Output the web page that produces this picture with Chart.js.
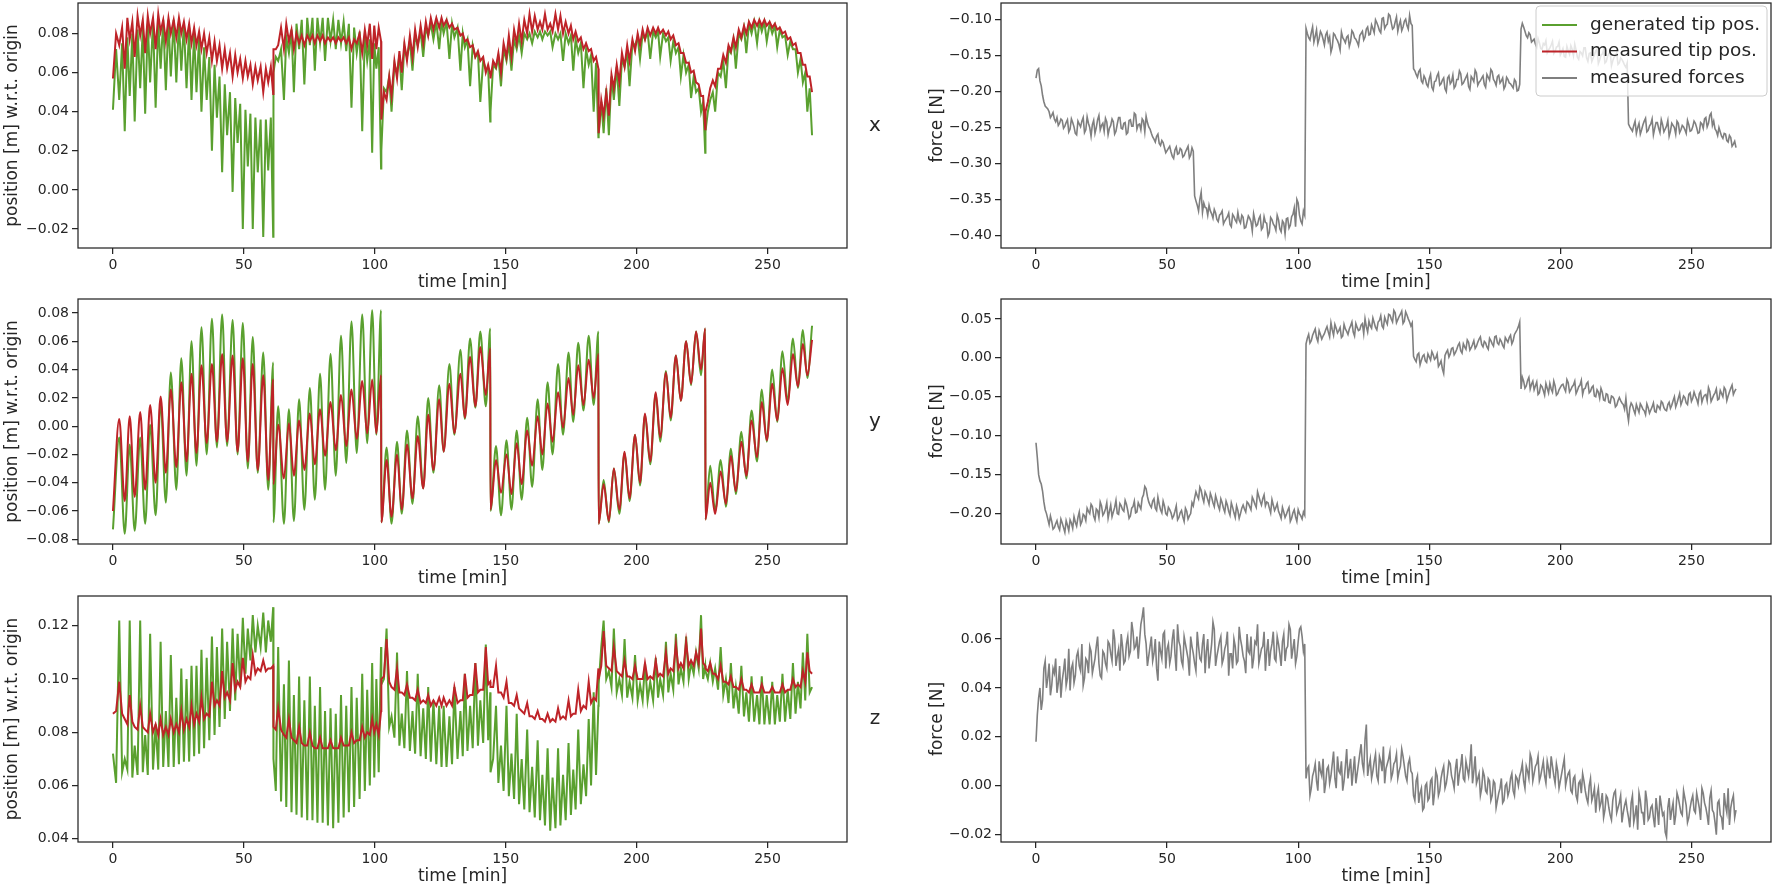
<!DOCTYPE html>
<html>
<head>
<meta charset="utf-8">
<title>tip position and forces</title>
<script src="https://cdn.jsdelivr.net/npm/chart.js"></script>
<style>
  html, body { margin: 0; padding: 0; background: #fff; }
  #fig { position: relative; width: 1772px; height: 893px; overflow: hidden; background: #fff; }
  .panel { position: absolute; }
</style>
</head>
<body>
<div id="fig">
  <div class="panel" style="left:0;top:0;width:900px;height:293px"><canvas id="posXChart"></canvas></div>
  <div class="panel" style="left:0;top:296px;width:900px;height:293px"><canvas id="posYChart"></canvas></div>
  <div class="panel" style="left:0;top:593px;width:900px;height:294px"><canvas id="posZChart"></canvas></div>
  <div class="panel" style="left:920px;top:0;width:852px;height:293px"><canvas id="forceXChart"></canvas></div>
  <div class="panel" style="left:920px;top:296px;width:852px;height:293px"><canvas id="forceYChart"></canvas></div>
  <div class="panel" style="left:920px;top:593px;width:852px;height:294px"><canvas id="forceZChart"></canvas></div>
</div>
<script>
// ---- data ----
// y position: peak / trough instants
const timePosY = [
  0, 2.4, 4.5, 6.4, 8.3, 10.4, 12.3, 14.2, 16.3, 18.2, 20.2, 22.1, 24.2, 26.1, 28.1, 30.0, 31.9, 33.8, 35.8, 37.8, 39.7, 41.7, 43.6, 45.7, 47.6, 49.6, 51.5, 53.4, 55.3, 57.4, 59.3, 61.2, 61.3,
  63.1, 65.3, 67.2, 69.1, 71.1, 73.1, 75.2, 77.1, 79.1, 81.0, 83.1, 85.1, 87.1, 89.1, 91.1, 93.1, 95.2, 97.1, 99.0, 100.6, 102.4, 102.5,
  104.5, 106.4, 108.5, 110.3, 112.3, 114.4, 116.4, 118.5, 120.4, 122.4, 124.6, 126.3, 128.5, 130.4, 132.7, 134.4, 136.4, 138.4, 140.3, 142.4, 144.1, 144.2,
  146.3, 148.2, 150.3, 152.2, 154.2, 156.1, 158.2, 160.1, 162.2, 164.0, 166.0, 167.9, 170.0, 171.9, 174.0, 175.8, 177.7, 179.7, 181.7, 183.6, 185.4, 185.5,
  187.4, 189.4, 191.3, 193.4, 195.4, 197.3, 199.4, 201.3, 203.2, 205.2, 207.3, 209.0, 211.2, 213.0, 215.0, 216.9, 218.9, 220.8, 222.7, 224.6, 226.2, 226.3,
  228.1, 230.0, 232.1, 234.1, 236.0, 237.9, 240.0, 241.9, 243.9, 246.0, 247.8, 249.7, 251.8, 253.7, 255.7, 257.7, 259.7, 261.6, 263.5, 265.2, 267.0
];
const genPosY = [
  -0.073, -0.008, -0.076, -0.013, -0.074, -0.008, -0.069, 0.001, -0.063, 0.017, -0.054, 0.038, -0.045, 0.048, -0.035, 0.060, -0.028, 0.070, -0.020, 0.076, -0.015, 0.079, -0.014, 0.075, -0.020, 0.073, -0.030, 0.063, -0.033, 0.052, -0.045, 0.045, -0.068,
  0.014, -0.069, 0.012, -0.067, 0.019, -0.059, 0.027, -0.052, 0.037, -0.045, 0.051, -0.035, 0.064, -0.026, 0.074, -0.019, 0.079, -0.012, 0.082, -0.006, 0.082, -0.068,
  -0.015, -0.069, -0.011, -0.062, -0.003, -0.055, 0.007, -0.044, 0.020, -0.033, 0.029, -0.018, 0.044, -0.006, 0.054, 0.005, 0.062, 0.013, 0.067, 0.014, 0.069, -0.060,
  -0.014, -0.063, -0.010, -0.059, -0.003, -0.052, 0.006, -0.043, 0.019, -0.031, 0.031, -0.020, 0.044, -0.006, 0.052, 0.003, 0.059, 0.011, 0.064, 0.015, 0.067, -0.069,
  -0.038, -0.068, -0.030, -0.062, -0.019, -0.053, -0.006, -0.042, 0.008, -0.027, 0.023, -0.011, 0.039, 0.004, 0.050, 0.018, 0.060, 0.029, 0.067, 0.036, 0.069, -0.066,
  -0.028, -0.060, -0.024, -0.057, -0.016, -0.048, -0.004, -0.037, 0.011, -0.025, 0.026, -0.011, 0.040, 0.003, 0.053, 0.017, 0.062, 0.027, 0.068, 0.034, 0.071
];
const measPosY = [
  -0.060, 0.005, -0.053, 0.007, -0.050, 0.010, -0.045, 0.015, -0.040, 0.021, -0.033, 0.026, -0.029, 0.031, -0.025, 0.037, -0.019, 0.043, -0.012, 0.044, -0.011, 0.051, -0.011, 0.050, -0.018, 0.048, -0.025, 0.044, -0.031, 0.036, -0.038, 0.033, -0.041,
  0.001, -0.037, 0.002, -0.035, 0.004, -0.031, 0.009, -0.027, 0.012, -0.021, 0.017, -0.017, 0.022, -0.014, 0.026, -0.009, 0.032, -0.005, 0.033, -0.005, 0.036, -0.068,
  -0.024, -0.064, -0.020, -0.059, -0.013, -0.051, -0.007, -0.044, 0.008, -0.031, 0.019, -0.018, 0.030, -0.005, 0.037, 0.006, 0.049, 0.014, 0.056, 0.022, 0.055, -0.059,
  -0.024, -0.047, -0.020, -0.048, -0.012, -0.041, -0.003, -0.028, 0.007, -0.020, 0.016, -0.011, 0.024, -0.001, 0.034, 0.008, 0.043, 0.015, 0.047, 0.020, 0.051, -0.069,
  -0.041, -0.067, -0.030, -0.059, -0.018, -0.051, -0.006, -0.040, 0.009, -0.025, 0.024, -0.008, 0.038, 0.006, 0.050, 0.018, 0.060, 0.030, 0.067, 0.040, 0.069, -0.066,
  -0.040, -0.062, -0.032, -0.055, -0.021, -0.046, -0.011, -0.035, 0.004, -0.022, 0.017, -0.010, 0.030, 0.004, 0.041, 0.015, 0.051, 0.028, 0.058, 0.036, 0.061
];

// x and z position: finer instants (y extremes plus the points between them)
const timePosXZ = [
  0, 1.2, 2.4, 3.5, 4.5, 5.5, 6.4, 7.4, 8.3, 9.4, 10.4, 11.4, 12.3, 13.3, 14.2, 15.3, 16.3, 17.3, 18.2, 19.2, 20.2, 21.2, 22.1, 23.2, 24.2, 25.2, 26.1, 27.1, 28.1, 29.1, 30.0, 31.0,
  31.9, 32.9, 33.8, 34.8, 35.8, 36.8, 37.8, 38.8, 39.7, 40.7, 41.7, 42.7, 43.6, 44.7, 45.7, 46.7, 47.6, 48.6, 49.6, 50.6, 51.5, 52.5, 53.4, 54.4, 55.3, 56.4, 57.4, 58.4, 59.3, 60.3, 61.2, 61.3,
  62.2, 63.1, 64.2, 65.3, 66.2, 67.2, 68.2, 69.1, 70.1, 71.1, 72.1, 73.1, 74.2, 75.2, 76.2, 77.1, 78.1, 79.1, 80.1, 81.0, 82.1, 83.1, 84.1, 85.1, 86.1, 87.1, 88.1, 89.1, 90.1, 91.1, 92.1, 93.1, 94.2, 95.2, 96.2, 97.1, 98.1, 99.0, 99.8, 100.6, 101.5, 102.4, 102.5,
  103.5, 104.5, 105.5, 106.4, 107.5, 108.5, 109.4, 110.3, 111.3, 112.3, 113.4, 114.4, 115.4, 116.4, 117.5, 118.5, 119.5, 120.4, 121.4, 122.4, 123.5, 124.6, 125.5, 126.3, 127.4, 128.5, 129.5, 130.4, 131.6, 132.7, 133.6, 134.4, 135.4, 136.4, 137.4, 138.4, 139.4, 140.3, 141.4, 142.4, 143.3, 144.1, 144.2,
  145.2, 146.3, 147.2, 148.2, 149.2, 150.3, 151.2, 152.2, 153.2, 154.2, 155.1, 156.1, 157.1, 158.2, 159.1, 160.1, 161.1, 162.2, 163.1, 164.0, 165.0, 166.0, 167.0, 167.9, 169.0, 170.0, 170.9, 171.9, 172.9, 174.0, 174.9, 175.8, 176.7, 177.7, 178.7, 179.7, 180.7, 181.7, 182.6, 183.6, 184.5, 185.4, 185.5,
  186.5, 187.4, 188.4, 189.4, 190.4, 191.3, 192.4, 193.4, 194.4, 195.4, 196.4, 197.3, 198.4, 199.4, 200.4, 201.3, 202.3, 203.2, 204.2, 205.2, 206.3, 207.3, 208.2, 209.0, 210.1, 211.2, 212.1, 213.0, 214.0, 215.0, 216.0, 216.9, 217.9, 218.9, 219.9, 220.8, 221.8, 222.7, 223.7, 224.6, 225.4, 226.2, 226.3,
  227.2, 228.1, 229.1, 230.0, 231.1, 232.1, 233.1, 234.1, 235.1, 236.0, 237.0, 237.9, 239.0, 240.0, 241.0, 241.9, 242.9, 243.9, 244.9, 246.0, 246.9, 247.8, 248.8, 249.7, 250.8, 251.8, 252.8, 253.7, 254.7, 255.7, 256.7, 257.7, 258.7, 259.7, 260.7, 261.6, 262.6, 263.5, 264.4, 265.2, 266.1, 267.0
];
const genPosX = [
  0.041, 0.072, 0.046, 0.075, 0.030, 0.078, 0.048, 0.080, 0.035, 0.082, 0.052, 0.083, 0.039, 0.085, 0.055, 0.086, 0.042, 0.086, 0.062, 0.087, 0.051, 0.087, 0.058, 0.087, 0.055, 0.086, 0.061, 0.085, 0.052, 0.083, 0.046, 0.080,
  0.050, 0.078, 0.040, 0.073, 0.046, 0.068, 0.020, 0.064, 0.037, 0.058, 0.009, 0.054, 0.028, 0.050, -0.001, 0.047, 0.024, 0.044, -0.020, 0.041, 0.012, 0.039, -0.020, 0.037, 0.009, 0.036, -0.024, 0.036, 0.010, 0.037, -0.024, 0.060,
  0.068, 0.066, 0.072, 0.046, 0.078, 0.070, 0.082, 0.050, 0.085, 0.072, 0.087, 0.054, 0.088, 0.074, 0.088, 0.061, 0.088, 0.075, 0.088, 0.066, 0.088, 0.076, 0.087, 0.072, 0.087, 0.075, 0.086, 0.071, 0.085, 0.042, 0.083, 0.070, 0.081, 0.030, 0.079, 0.066, 0.077, 0.019, 0.075, 0.062, 0.073, 0.011, 0.020,
  0.052, 0.050, 0.058, 0.040, 0.064, 0.060, 0.069, 0.051, 0.073, 0.068, 0.076, 0.061, 0.079, 0.074, 0.081, 0.068, 0.083, 0.079, 0.085, 0.077, 0.086, 0.072, 0.086, 0.080, 0.086, 0.067, 0.085, 0.078, 0.083, 0.061, 0.080, 0.073, 0.077, 0.053, 0.074, 0.068, 0.070, 0.045, 0.066, 0.062, 0.062, 0.035, 0.040,
  0.064, 0.062, 0.068, 0.053, 0.072, 0.066, 0.075, 0.061, 0.077, 0.072, 0.079, 0.070, 0.080, 0.077, 0.080, 0.075, 0.081, 0.078, 0.081, 0.077, 0.081, 0.079, 0.081, 0.073, 0.080, 0.077, 0.080, 0.066, 0.080, 0.075, 0.079, 0.061, 0.077, 0.070, 0.075, 0.052, 0.072, 0.064, 0.069, 0.040, 0.065, 0.027, 0.028,
  0.045, 0.029, 0.052, 0.028, 0.058, 0.046, 0.063, 0.043, 0.067, 0.063, 0.071, 0.053, 0.075, 0.074, 0.078, 0.067, 0.080, 0.077, 0.081, 0.067, 0.081, 0.078, 0.081, 0.068, 0.080, 0.076, 0.078, 0.066, 0.076, 0.070, 0.073, 0.058, 0.069, 0.060, 0.064, 0.047, 0.058, 0.050, 0.052, 0.040, 0.045, 0.019, 0.030,
  0.040, 0.046, 0.050, 0.040, 0.060, 0.058, 0.066, 0.052, 0.072, 0.070, 0.077, 0.062, 0.080, 0.077, 0.083, 0.070, 0.085, 0.080, 0.086, 0.075, 0.086, 0.081, 0.086, 0.076, 0.085, 0.080, 0.084, 0.073, 0.082, 0.078, 0.079, 0.069, 0.076, 0.072, 0.072, 0.060, 0.067, 0.055, 0.060, 0.040, 0.052, 0.028
];
const measPosX = [
  0.057, 0.080, 0.074, 0.083, 0.062, 0.088, 0.077, 0.086, 0.068, 0.089, 0.079, 0.087, 0.070, 0.089, 0.080, 0.088, 0.072, 0.090, 0.081, 0.087, 0.076, 0.088, 0.080, 0.087, 0.078, 0.088, 0.080, 0.086, 0.077, 0.085, 0.075, 0.083,
  0.074, 0.081, 0.072, 0.080, 0.070, 0.078, 0.066, 0.076, 0.066, 0.074, 0.062, 0.072, 0.062, 0.070, 0.058, 0.069, 0.060, 0.067, 0.057, 0.066, 0.058, 0.064, 0.054, 0.063, 0.056, 0.063, 0.050, 0.062, 0.055, 0.063, 0.049, 0.072,
  0.072, 0.074, 0.083, 0.072, 0.085, 0.076, 0.082, 0.072, 0.080, 0.075, 0.079, 0.074, 0.079, 0.076, 0.079, 0.075, 0.079, 0.076, 0.079, 0.075, 0.078, 0.076, 0.078, 0.075, 0.078, 0.076, 0.078, 0.075, 0.078, 0.072, 0.077, 0.075, 0.080, 0.070, 0.082, 0.074, 0.085, 0.067, 0.084, 0.072, 0.083, 0.076, 0.036,
  0.050, 0.046, 0.058, 0.048, 0.066, 0.057, 0.071, 0.060, 0.075, 0.066, 0.079, 0.068, 0.082, 0.073, 0.084, 0.075, 0.086, 0.079, 0.088, 0.082, 0.088, 0.083, 0.088, 0.084, 0.087, 0.083, 0.085, 0.082, 0.083, 0.079, 0.080, 0.076, 0.077, 0.073, 0.074, 0.068, 0.071, 0.066, 0.068, 0.060, 0.064, 0.059, 0.057,
  0.066, 0.063, 0.070, 0.060, 0.075, 0.068, 0.079, 0.068, 0.082, 0.075, 0.085, 0.076, 0.087, 0.080, 0.090, 0.081, 0.089, 0.082, 0.086, 0.082, 0.090, 0.082, 0.085, 0.081, 0.090, 0.082, 0.089, 0.080, 0.086, 0.080, 0.084, 0.077, 0.081, 0.076, 0.078, 0.072, 0.075, 0.071, 0.072, 0.066, 0.068, 0.062, 0.029,
  0.046, 0.038, 0.050, 0.038, 0.059, 0.052, 0.064, 0.055, 0.070, 0.063, 0.074, 0.066, 0.077, 0.071, 0.080, 0.074, 0.082, 0.077, 0.083, 0.079, 0.083, 0.080, 0.083, 0.080, 0.082, 0.079, 0.081, 0.077, 0.079, 0.074, 0.075, 0.070, 0.070, 0.065, 0.065, 0.060, 0.061, 0.055, 0.054, 0.048, 0.048, 0.031, 0.040,
  0.045, 0.052, 0.056, 0.053, 0.062, 0.062, 0.069, 0.065, 0.074, 0.071, 0.078, 0.073, 0.082, 0.078, 0.084, 0.080, 0.086, 0.083, 0.087, 0.084, 0.087, 0.084, 0.087, 0.084, 0.086, 0.083, 0.085, 0.082, 0.083, 0.080, 0.081, 0.077, 0.078, 0.074, 0.075, 0.070, 0.070, 0.064, 0.064, 0.058, 0.058, 0.050
];
const genPosZ = [
  0.072, 0.061, 0.122, 0.065, 0.070, 0.066, 0.122, 0.063, 0.075, 0.064, 0.122, 0.065, 0.079, 0.064, 0.117, 0.066, 0.083, 0.066, 0.114, 0.067, 0.088, 0.067, 0.109, 0.067, 0.093, 0.068, 0.104, 0.069, 0.100, 0.069, 0.105, 0.071,
  0.105, 0.072, 0.111, 0.074, 0.108, 0.077, 0.116, 0.079, 0.112, 0.082, 0.119, 0.085, 0.114, 0.088, 0.119, 0.092, 0.117, 0.097, 0.123, 0.102, 0.119, 0.107, 0.124, 0.110, 0.120, 0.112, 0.125, 0.110, 0.122, 0.114, 0.127, 0.070,
  0.058, 0.112, 0.054, 0.098, 0.052, 0.107, 0.050, 0.094, 0.049, 0.101, 0.048, 0.092, 0.047, 0.101, 0.047, 0.090, 0.046, 0.097, 0.046, 0.088, 0.045, 0.089, 0.044, 0.087, 0.046, 0.094, 0.048, 0.090, 0.050, 0.097, 0.052, 0.093, 0.055, 0.102, 0.058, 0.096, 0.060, 0.106, 0.063, 0.100, 0.065, 0.112, 0.098,
  0.100, 0.119, 0.082, 0.086, 0.078, 0.110, 0.075, 0.087, 0.074, 0.103, 0.073, 0.088, 0.072, 0.102, 0.071, 0.089, 0.070, 0.097, 0.069, 0.092, 0.068, 0.090, 0.067, 0.090, 0.067, 0.086, 0.068, 0.097, 0.070, 0.088, 0.071, 0.102, 0.073, 0.090, 0.074, 0.106, 0.075, 0.092, 0.076, 0.113, 0.077, 0.095, 0.065,
  0.070, 0.090, 0.061, 0.075, 0.058, 0.090, 0.056, 0.072, 0.055, 0.087, 0.053, 0.070, 0.051, 0.081, 0.050, 0.067, 0.048, 0.077, 0.047, 0.064, 0.045, 0.074, 0.043, 0.063, 0.044, 0.074, 0.045, 0.064, 0.047, 0.076, 0.049, 0.066, 0.051, 0.081, 0.053, 0.068, 0.056, 0.085, 0.060, 0.095, 0.064, 0.090, 0.098,
  0.112, 0.122, 0.100, 0.103, 0.097, 0.119, 0.095, 0.100, 0.094, 0.115, 0.093, 0.099, 0.093, 0.109, 0.092, 0.098, 0.092, 0.106, 0.092, 0.099, 0.092, 0.108, 0.093, 0.100, 0.094, 0.114, 0.095, 0.102, 0.096, 0.117, 0.098, 0.104, 0.099, 0.116, 0.100, 0.106, 0.102, 0.110, 0.104, 0.124, 0.100, 0.105, 0.103,
  0.100, 0.106, 0.099, 0.104, 0.096, 0.112, 0.094, 0.100, 0.091, 0.106, 0.089, 0.097, 0.087, 0.105, 0.086, 0.095, 0.084, 0.101, 0.084, 0.094, 0.083, 0.101, 0.083, 0.094, 0.083, 0.099, 0.083, 0.094, 0.084, 0.102, 0.084, 0.096, 0.085, 0.106, 0.087, 0.099, 0.089, 0.110, 0.092, 0.117, 0.095, 0.097
];
const measPosZ = [
  0.087, 0.088, 0.099, 0.087, 0.085, 0.083, 0.094, 0.084, 0.082, 0.081, 0.090, 0.082, 0.081, 0.080, 0.087, 0.080, 0.083, 0.079, 0.085, 0.079, 0.082, 0.079, 0.085, 0.080, 0.083, 0.080, 0.088, 0.081, 0.085, 0.082, 0.090, 0.083,
  0.087, 0.084, 0.093, 0.085, 0.087, 0.086, 0.099, 0.090, 0.092, 0.090, 0.103, 0.093, 0.095, 0.092, 0.106, 0.096, 0.099, 0.097, 0.108, 0.099, 0.101, 0.100, 0.109, 0.102, 0.104, 0.103, 0.107, 0.103, 0.104, 0.104, 0.105, 0.082,
  0.081, 0.089, 0.081, 0.079, 0.078, 0.085, 0.078, 0.077, 0.076, 0.082, 0.076, 0.075, 0.075, 0.080, 0.075, 0.074, 0.074, 0.078, 0.074, 0.074, 0.074, 0.077, 0.074, 0.074, 0.074, 0.078, 0.075, 0.075, 0.075, 0.080, 0.076, 0.077, 0.077, 0.082, 0.078, 0.080, 0.079, 0.085, 0.080, 0.083, 0.079, 0.088, 0.100,
  0.101, 0.115, 0.099, 0.097, 0.096, 0.104, 0.095, 0.095, 0.094, 0.098, 0.093, 0.093, 0.092, 0.096, 0.091, 0.092, 0.091, 0.094, 0.090, 0.092, 0.090, 0.093, 0.090, 0.093, 0.090, 0.092, 0.090, 0.097, 0.091, 0.092, 0.092, 0.102, 0.093, 0.094, 0.094, 0.106, 0.095, 0.096, 0.096, 0.112, 0.098, 0.099, 0.097,
  0.097, 0.105, 0.095, 0.095, 0.093, 0.099, 0.091, 0.091, 0.090, 0.094, 0.089, 0.088, 0.087, 0.091, 0.086, 0.086, 0.085, 0.088, 0.085, 0.085, 0.084, 0.087, 0.084, 0.085, 0.084, 0.089, 0.085, 0.086, 0.085, 0.092, 0.086, 0.087, 0.087, 0.096, 0.088, 0.090, 0.089, 0.099, 0.091, 0.093, 0.092, 0.104, 0.100,
  0.105, 0.118, 0.105, 0.104, 0.103, 0.112, 0.103, 0.102, 0.101, 0.107, 0.101, 0.101, 0.100, 0.105, 0.100, 0.100, 0.100, 0.106, 0.100, 0.101, 0.100, 0.107, 0.101, 0.102, 0.101, 0.110, 0.102, 0.104, 0.103, 0.113, 0.104, 0.106, 0.104, 0.114, 0.105, 0.107, 0.105, 0.110, 0.106, 0.119, 0.106, 0.105, 0.104,
  0.103, 0.106, 0.102, 0.102, 0.100, 0.105, 0.099, 0.099, 0.098, 0.101, 0.097, 0.097, 0.096, 0.100, 0.096, 0.096, 0.095, 0.098, 0.095, 0.095, 0.095, 0.098, 0.095, 0.095, 0.095, 0.097, 0.095, 0.095, 0.095, 0.098, 0.095, 0.096, 0.096, 0.100, 0.097, 0.098, 0.097, 0.103, 0.099, 0.110, 0.103, 0.102
];

// forces: readings on the whole minute ...
const timeForce = [
  0, 1, 2, 3, 4, 5, 6, 7, 8, 9, 10, 11, 12, 13, 14, 15, 16, 17, 18, 19, 20, 21, 22, 23, 24, 25, 26, 27, 28, 29,
  30, 31, 32, 33, 34, 35, 36, 37, 38, 39, 40, 41, 42, 43, 44, 45, 46, 47, 48, 49, 50, 51, 52, 53, 54, 55, 56, 57, 58, 59,
  60, 61, 62, 63, 64, 65, 66, 67, 68, 69, 70, 71, 72, 73, 74, 75, 76, 77, 78, 79, 80, 81, 82, 83, 84, 85, 86, 87, 88, 89,
  90, 91, 92, 93, 94, 95, 96, 97, 98, 99, 100, 101, 102, 103, 104, 105, 106, 107, 108, 109, 110, 111, 112, 113, 114, 115, 116, 117, 118, 119,
  120, 121, 122, 123, 124, 125, 126, 127, 128, 129, 130, 131, 132, 133, 134, 135, 136, 137, 138, 139, 140, 141, 142, 143, 144, 145, 146, 147, 148, 149,
  150, 151, 152, 153, 154, 155, 156, 157, 158, 159, 160, 161, 162, 163, 164, 165, 166, 167, 168, 169, 170, 171, 172, 173, 174, 175, 176, 177, 178, 179,
  180, 181, 182, 183, 184, 185, 186, 187, 188, 189, 190, 191, 192, 193, 194, 195, 196, 197, 198, 199, 200, 201, 202, 203, 204, 205, 206, 207, 208, 209,
  210, 211, 212, 213, 214, 215, 216, 217, 218, 219, 220, 221, 222, 223, 224, 225, 226, 227, 228, 229, 230, 231, 232, 233, 234, 235, 236, 237, 238, 239,
  240, 241, 242, 243, 244, 245, 246, 247, 248, 249, 250, 251, 252, 253, 254, 255, 256, 257, 258, 259, 260, 261, 262, 263, 264, 265, 266, 267
];
const forceX = [
  -0.181, -0.168, -0.192, -0.214, -0.222, -0.228, -0.233, -0.238, -0.236, -0.244, -0.240,
  -0.248, -0.239, -0.252, -0.243, -0.258, -0.241, -0.249, -0.236, -0.253, -0.244, -0.262, -0.240, -0.250, -0.233, -0.247, -0.255, -0.242, -0.251, -0.238, -0.259,
  -0.245, -0.236, -0.252, -0.243, -0.257, -0.239, -0.248, -0.232, -0.246, -0.253, -0.241, -0.234, -0.249,
  -0.258, -0.266, -0.262, -0.272, -0.268, -0.278,
  -0.282, -0.276, -0.290, -0.281, -0.287, -0.279, -0.291, -0.284, -0.276, -0.288, -0.283,
  -0.352, -0.366, -0.340, -0.355, -0.362, -0.358, -0.370, -0.364, -0.378, -0.372, -0.366, -0.380, -0.374, -0.385, -0.371, -0.379, -0.368, -0.383, -0.375, -0.389,
  -0.373, -0.381, -0.370, -0.387, -0.377, -0.392, -0.374, -0.383, -0.396, -0.378, -0.387, -0.372, -0.391, -0.380, -0.398, -0.376, -0.386, -0.371, -0.388, -0.355, -0.380, -0.366,
  -0.112, -0.125, -0.118, -0.131, -0.114, -0.126, -0.120, -0.135, -0.117, -0.124, -0.138, -0.121, -0.129, -0.142, -0.125, -0.132, -0.122, -0.130, -0.118, -0.127,
  -0.136, -0.119, -0.128, -0.113, -0.121, -0.107, -0.118, -0.104, -0.115, -0.098, -0.112, -0.106, -0.094, -0.113, -0.103, -0.116, -0.101, -0.110, -0.099, -0.113, -0.105,
  -0.168, -0.176, -0.172, -0.185, -0.178, -0.190, -0.182, -0.194, -0.186, -0.178, -0.191, -0.184, -0.196, -0.181, -0.189, -0.177, -0.192, -0.183, -0.175, -0.188,
  -0.180, -0.193, -0.179, -0.186, -0.174, -0.187, -0.181, -0.190, -0.176, -0.184, -0.172, -0.186, -0.179, -0.188, -0.181, -0.192, -0.183, -0.189, -0.195, -0.186, -0.198,
  -0.113, -0.110, -0.122, -0.118, -0.131, -0.127, -0.138, -0.132, -0.141, -0.135, -0.146, -0.139, -0.130, -0.144, -0.137, -0.149, -0.140, -0.152, -0.143, -0.136,
  -0.150, -0.142, -0.155, -0.146, -0.139, -0.153, -0.147, -0.158, -0.149, -0.141, -0.156, -0.148, -0.160, -0.151, -0.145, -0.157, -0.150, -0.162, -0.153, -0.159, -0.166,
  -0.245, -0.252, -0.247, -0.258, -0.244, -0.253, -0.241, -0.256, -0.248, -0.238, -0.251, -0.243, -0.257, -0.246, -0.252, -0.240, -0.255, -0.247, -0.259, -0.244,
  -0.253, -0.249, -0.258, -0.246, -0.254, -0.241, -0.250, -0.257, -0.245, -0.238, -0.249, -0.233, -0.247, -0.252, -0.261, -0.256, -0.265, -0.259, -0.270, -0.264, -0.273, -0.278
];
const forceY = [
  -0.109, -0.150, -0.162, -0.185, -0.200, -0.214, -0.210, -0.218, -0.209, -0.221, -0.212, -0.224, -0.215, -0.208, -0.219, -0.211, -0.205, -0.214, -0.201, -0.209, -0.197,
  -0.188, -0.203, -0.194, -0.205, -0.190, -0.199, -0.186, -0.197, -0.204, -0.192, -0.200, -0.187, -0.195, -0.183, -0.196, -0.203, -0.191, -0.199, -0.186, -0.194,
  -0.176, -0.168, -0.185, -0.192, -0.181, -0.196, -0.188, -0.199, -0.190, -0.202, -0.195, -0.206, -0.197, -0.208, -0.199, -0.204, -0.193, -0.207, -0.200, -0.190,
  -0.172, -0.181, -0.170, -0.185, -0.176, -0.188, -0.179, -0.191, -0.183, -0.195, -0.186, -0.198, -0.189, -0.202, -0.192, -0.205, -0.196, -0.200, -0.189, -0.198,
  -0.187, -0.195, -0.183, -0.192, -0.178, -0.189, -0.176, -0.185, -0.193, -0.182, -0.196, -0.187, -0.201, -0.192, -0.205, -0.196, -0.210, -0.199, -0.204, -0.195, -0.203, -0.198,
  0.018, 0.030, 0.022, 0.033, 0.026, 0.035, 0.024, 0.031, 0.040, 0.027, 0.036, 0.043, 0.032, 0.039, 0.028, 0.037, 0.030, 0.041, 0.033, 0.044,
  0.035, 0.042, 0.031, 0.040, 0.047, 0.038, 0.045, 0.036, 0.048, 0.041, 0.052, 0.043, 0.055, 0.046, 0.058, 0.049, 0.056, 0.044, 0.059, 0.050, 0.041,
  0.002, -0.005, 0.006, -0.003, 0.004, -0.006, 0.001, 0.008, -0.002, 0.005, -0.008, -0.014, 0.003, 0.010, 0.005, 0.013, 0.007, 0.016, 0.009, 0.018,
  0.011, 0.020, 0.013, 0.022, 0.015, 0.024, 0.017, 0.021, 0.014, 0.025, 0.018, 0.027, 0.019, 0.024, 0.016, 0.026, 0.020, 0.029, 0.022, 0.033, 0.040,
  -0.040, -0.030, -0.036, -0.025, -0.034, -0.041, -0.031, -0.045, -0.037, -0.048, -0.039, -0.033, -0.044, -0.036, -0.046, -0.038, -0.034, -0.043, -0.032, -0.041, -0.035,
  -0.046, -0.037, -0.029, -0.040, -0.033, -0.045, -0.038, -0.049, -0.041, -0.052, -0.044, -0.055, -0.047, -0.058, -0.050, -0.063, -0.055, -0.055, -0.060, -0.052, -0.081,
  -0.058, -0.067, -0.060, -0.070, -0.062, -0.068, -0.059, -0.071, -0.063, -0.069, -0.061, -0.066, -0.058, -0.067, -0.060, -0.065, -0.055, -0.063, -0.052, -0.060,
  -0.049, -0.058, -0.047, -0.056, -0.044, -0.053, -0.046, -0.057, -0.048, -0.055, -0.043, -0.052, -0.045, -0.054, -0.042, -0.050, -0.041, -0.049, -0.039, -0.047, -0.040
];
const forceZ = [
  0.018, 0.036, 0.031, 0.048, 0.040, 0.050, 0.041, 0.046, 0.038, 0.049, 0.043, 0.052, 0.044, 0.039, 0.050, 0.045, 0.055, 0.047, 0.041, 0.052, 0.046,
  0.055, 0.049, 0.057, 0.050, 0.044, 0.054, 0.048, 0.058, 0.051, 0.060, 0.053, 0.047, 0.057, 0.051, 0.061, 0.055, 0.063, 0.057, 0.052, 0.066,
  0.073, 0.058, 0.053, 0.061, 0.054, 0.048, 0.059, 0.052, 0.063, 0.056, 0.050, 0.060, 0.054, 0.066, 0.057, 0.049, 0.058, 0.052, 0.061, 0.054,
  0.047, 0.057, 0.051, 0.062, 0.055, 0.048, 0.058, 0.064, 0.053, 0.059, 0.050, 0.056, 0.063, 0.054, 0.048, 0.057, 0.051, 0.060, 0.053, 0.046,
  0.055, 0.061, 0.052, 0.058, 0.050, 0.056, 0.063, 0.055, 0.049, 0.058, 0.052, 0.061, 0.054, 0.059, 0.051, 0.057, 0.064, 0.056, 0.050, 0.059, 0.065, 0.055,
  0.003, 0.008, -0.001, 0.006, 0.002, 0.010, 0.004, -0.003, 0.007, 0.001, 0.009, 0.003, 0.012, 0.005, -0.002, 0.008, 0.003, 0.011, 0.006, 0.001,
  0.009, 0.017, 0.006, 0.025, 0.008, 0.003, 0.010, 0.004, 0.012, 0.006, 0.001, 0.009, 0.014, 0.005, 0.010, 0.003, 0.008, 0.012, 0.004, 0.009, 0.006,
  -0.004, 0.002, -0.007, -0.001, -0.009, 0.001, -0.005, 0.003, -0.003, 0.004, -0.002, 0.006, -0.001, 0.005, 0.009, 0.002, 0.007, 0.000, 0.008, 0.003,
  0.010, 0.004, 0.017, 0.006, 0.001, 0.005, -0.001, 0.004, -0.003, 0.002, -0.004, 0.001, -0.006, -0.001, -0.007, 0.000, -0.004, 0.003, -0.002, 0.004, 0.000,
  0.006, 0.002, 0.008, 0.003, 0.011, 0.005, 0.009, 0.002, 0.007, 0.004, 0.010, 0.003, 0.008, 0.001, 0.006, 0.002, 0.008, 0.000, 0.005, -0.002,
  0.003, -0.004, 0.001, -0.003, 0.002, -0.005, 0.000, -0.006, -0.001, -0.004, -0.009, -0.003, -0.010, -0.005, -0.012, -0.006, -0.002, -0.009, -0.004, -0.011, -0.006,
  -0.013, -0.007, -0.015, -0.008, -0.003, -0.011, -0.016, -0.006, -0.013, -0.008, -0.017, -0.010, -0.004, -0.012, -0.019, -0.009, -0.014, -0.007, -0.012, -0.005,
  -0.011, -0.002, -0.008, -0.013, -0.006, -0.010, -0.003, -0.009, -0.001, -0.007, -0.012, -0.005, -0.010, -0.015, -0.007, -0.012, -0.018, -0.008, -0.001, -0.009, -0.004, -0.010
];

// ... and the readings half a minute later
const timeForceHalf = [
  0.5, 1.5, 2.5, 3.5, 4.5, 5.5, 6.5, 7.5, 8.5, 9.5, 10.5, 11.5, 12.5, 13.5, 14.5, 15.5, 16.5, 17.5, 18.5, 19.5, 20.5, 21.5, 22.5, 23.5, 24.5, 25.5, 26.5, 27.5, 28.5, 29.5,
  30.5, 31.5, 32.5, 33.5, 34.5, 35.5, 36.5, 37.5, 38.5, 39.5, 40.5, 41.5, 42.5, 43.5, 44.5, 45.5, 46.5, 47.5, 48.5, 49.5, 50.5, 51.5, 52.5, 53.5, 54.5, 55.5, 56.5, 57.5, 58.5, 59.5,
  60.5, 61.5, 62.5, 63.5, 64.5, 65.5, 66.5, 67.5, 68.5, 69.5, 70.5, 71.5, 72.5, 73.5, 74.5, 75.5, 76.5, 77.5, 78.5, 79.5, 80.5, 81.5, 82.5, 83.5, 84.5, 85.5, 86.5, 87.5, 88.5, 89.5,
  90.5, 91.5, 92.5, 93.5, 94.5, 95.5, 96.5, 97.5, 98.5, 99.5, 100.5, 101.5, 102.5, 103.5, 104.5, 105.5, 106.5, 107.5, 108.5, 109.5, 110.5, 111.5, 112.5, 113.5, 114.5, 115.5, 116.5, 117.5, 118.5, 119.5,
  120.5, 121.5, 122.5, 123.5, 124.5, 125.5, 126.5, 127.5, 128.5, 129.5, 130.5, 131.5, 132.5, 133.5, 134.5, 135.5, 136.5, 137.5, 138.5, 139.5, 140.5, 141.5, 142.5, 143.5, 144.5, 145.5, 146.5, 147.5, 148.5, 149.5,
  150.5, 151.5, 152.5, 153.5, 154.5, 155.5, 156.5, 157.5, 158.5, 159.5, 160.5, 161.5, 162.5, 163.5, 164.5, 165.5, 166.5, 167.5, 168.5, 169.5, 170.5, 171.5, 172.5, 173.5, 174.5, 175.5, 176.5, 177.5, 178.5, 179.5,
  180.5, 181.5, 182.5, 183.5, 184.5, 185.5, 186.5, 187.5, 188.5, 189.5, 190.5, 191.5, 192.5, 193.5, 194.5, 195.5, 196.5, 197.5, 198.5, 199.5, 200.5, 201.5, 202.5, 203.5, 204.5, 205.5, 206.5, 207.5, 208.5, 209.5,
  210.5, 211.5, 212.5, 213.5, 214.5, 215.5, 216.5, 217.5, 218.5, 219.5, 220.5, 221.5, 222.5, 223.5, 224.5, 225.5, 226.5, 227.5, 228.5, 229.5, 230.5, 231.5, 232.5, 233.5, 234.5, 235.5, 236.5, 237.5, 238.5, 239.5,
  240.5, 241.5, 242.5, 243.5, 244.5, 245.5, 246.5, 247.5, 248.5, 249.5, 250.5, 251.5, 252.5, 253.5, 254.5, 255.5, 256.5, 257.5, 258.5, 259.5, 260.5, 261.5, 262.5, 263.5, 264.5, 265.5, 266.5
];
const forceXHalf = [
  -0.170, -0.185, -0.205, -0.220, -0.224, -0.236, -0.229, -0.242, -0.247, -0.238,
  -0.251, -0.243, -0.256, -0.238, -0.249, -0.260, -0.245, -0.241, -0.257, -0.235, -0.250, -0.246, -0.258, -0.239, -0.253, -0.244, -0.237, -0.260, -0.247, -0.242,
  -0.255, -0.236, -0.251, -0.244, -0.259, -0.240, -0.248, -0.230, -0.252, -0.245, -0.238, -0.256, -0.243,
  -0.252, -0.263, -0.270, -0.259, -0.275, -0.271,
  -0.285, -0.279, -0.284, -0.293, -0.277, -0.286, -0.281, -0.289, -0.280, -0.292, -0.278,
  -0.345,
  -0.358, -0.350, -0.368, -0.361, -0.372, -0.366, -0.376, -0.369, -0.381, -0.370, -0.384, -0.377, -0.369, -0.388, -0.374, -0.382, -0.379, -0.372, -0.390, -0.381,
  -0.376, -0.394, -0.379, -0.385, -0.373, -0.389, -0.382, -0.401, -0.375, -0.384, -0.393, -0.378, -0.395, -0.383, -0.377, -0.390, -0.374, -0.362, -0.350, -0.372, -0.384,
  -0.372,
  -0.119, -0.128, -0.110, -0.123, -0.133, -0.116, -0.127, -0.121, -0.130, -0.145, -0.119, -0.126, -0.134, -0.117, -0.128, -0.124, -0.137, -0.115, -0.125, -0.131,
  -0.122, -0.116, -0.124, -0.110, -0.120, -0.112, -0.100, -0.109, -0.118, -0.097, -0.108, -0.092, -0.104, -0.111, -0.096, -0.107, -0.115, -0.102, -0.108, -0.094,
  -0.108,
  -0.171, -0.180, -0.169, -0.188, -0.182, -0.193, -0.176, -0.198, -0.185, -0.174, -0.189, -0.181, -0.200, -0.178, -0.186, -0.195, -0.183, -0.171, -0.190, -0.184,
  -0.176, -0.197, -0.182, -0.170, -0.191, -0.185, -0.178, -0.194, -0.180, -0.169, -0.183, -0.191, -0.177, -0.185, -0.196, -0.180, -0.188, -0.192, -0.183, -0.199,
  -0.190,
  -0.105, -0.116, -0.125, -0.121, -0.129, -0.134, -0.126, -0.140, -0.133, -0.129, -0.142, -0.135, -0.147, -0.138, -0.131, -0.145, -0.151, -0.137, -0.148, -0.141,
  -0.134, -0.152, -0.144, -0.150, -0.139, -0.158, -0.146, -0.153, -0.143, -0.161, -0.149, -0.142, -0.158, -0.147, -0.164, -0.152, -0.146, -0.160, -0.155, -0.163,
  -0.160,
  -0.249, -0.255, -0.241, -0.250, -0.259, -0.246, -0.237, -0.254, -0.245, -0.260, -0.243, -0.251, -0.239, -0.256, -0.248, -0.262, -0.244, -0.250, -0.241, -0.257,
  -0.247, -0.253, -0.240, -0.255, -0.249, -0.244, -0.258, -0.243, -0.251, -0.236, -0.244, -0.230, -0.241, -0.255, -0.250, -0.262, -0.258, -0.268, -0.261, -0.276, -0.269
];
const forceYHalf = [
  -0.128, -0.158, -0.171, -0.195, -0.207, -0.203, -0.220, -0.213, -0.217, -0.207,
  -0.218, -0.209, -0.222, -0.212, -0.204, -0.216, -0.198, -0.210, -0.203, -0.193, -0.200, -0.191, -0.208, -0.196, -0.185, -0.202, -0.194, -0.206, -0.189, -0.198,
  -0.183, -0.201, -0.190, -0.197, -0.188, -0.206, -0.193, -0.184, -0.198, -0.190, -0.180,
  -0.165, -0.178, -0.189, -0.184, -0.193, -0.179, -0.195, -0.184, -0.200, -0.192, -0.199, -0.203, -0.190, -0.205, -0.196, -0.210, -0.197, -0.203, -0.186, -0.180,
  -0.177, -0.166, -0.179, -0.172, -0.182, -0.174, -0.186, -0.177, -0.190, -0.181, -0.193, -0.184, -0.197, -0.186, -0.199, -0.190, -0.206, -0.193, -0.194, -0.185,
  -0.191, -0.179, -0.188, -0.172, -0.184, -0.181, -0.190, -0.186, -0.199, -0.189, -0.192, -0.197, -0.206, -0.198, -0.201, -0.192, -0.206, -0.195, -0.210, -0.200, -0.207,
  -0.202,
  0.025, 0.019, 0.029, 0.037, 0.021, 0.030, 0.028, 0.036, 0.033, 0.045, 0.029, 0.038, 0.035, 0.026, 0.043, 0.034, 0.037, 0.046, 0.028, 0.039,
  0.036, 0.044, 0.050, 0.033, 0.041, 0.051, 0.039, 0.046, 0.054, 0.038, 0.047, 0.056, 0.050, 0.061, 0.045, 0.053, 0.060, 0.047, 0.055, 0.046,
  0.045,
  -0.002, 0.004, -0.009, 0.002, -0.004, 0.005, -0.003, 0.004, 0.000, -0.011, -0.004, -0.020, 0.007, 0.001, 0.012, 0.004, 0.011, 0.019, 0.006, 0.014,
  0.023, 0.010, 0.017, 0.012, 0.020, 0.027, 0.014, 0.019, 0.011, 0.022, 0.015, 0.028, 0.017, 0.021, 0.013, 0.023, 0.026, 0.018, 0.030, 0.036,
  0.046,
  -0.025, -0.039, -0.029, -0.040, -0.030, -0.036, -0.047, -0.035, -0.042, -0.033, -0.045, -0.040, -0.030, -0.048, -0.041, -0.035, -0.039, -0.028, -0.044, -0.037,
  -0.030, -0.042, -0.035, -0.047, -0.039, -0.031, -0.043, -0.036, -0.050, -0.044, -0.039, -0.054, -0.046, -0.057, -0.049, -0.053, -0.061, -0.051, -0.058, -0.066, -0.070,
  -0.064, -0.061, -0.072, -0.065, -0.059, -0.066, -0.073, -0.064, -0.067, -0.058, -0.070, -0.063, -0.056, -0.064, -0.068, -0.057, -0.061, -0.050, -0.058, -0.046,
  -0.055, -0.051, -0.060, -0.045, -0.052, -0.049, -0.059, -0.043, -0.051, -0.047, -0.038, -0.056, -0.048, -0.040, -0.053, -0.046, -0.038, -0.055, -0.044, -0.035, -0.043
];
const forceZHalf = [
  0.029, 0.040, 0.035, 0.051, 0.044, 0.037, 0.048, 0.052, 0.042, 0.036,
  0.047, 0.041, 0.056, 0.048, 0.042, 0.053, 0.049, 0.058, 0.044, 0.051, 0.057, 0.046, 0.052, 0.061, 0.045, 0.055, 0.050, 0.059, 0.054, 0.064,
  0.049, 0.056, 0.062, 0.050, 0.058, 0.053, 0.067, 0.056, 0.061, 0.059, 0.069,
  0.062, 0.049, 0.057, 0.051, 0.060, 0.043, 0.055, 0.062, 0.048, 0.058, 0.053, 0.064, 0.047, 0.059, 0.051, 0.061, 0.055, 0.045, 0.057, 0.050,
  0.063, 0.052, 0.058, 0.046, 0.060, 0.053, 0.067, 0.049, 0.056, 0.061, 0.052, 0.058, 0.045, 0.054, 0.060, 0.050, 0.065, 0.057, 0.051, 0.062,
  0.054, 0.048, 0.059, 0.066, 0.053, 0.057, 0.047, 0.060, 0.055, 0.063, 0.051, 0.058, 0.049, 0.062, 0.056, 0.066, 0.052, 0.060, 0.053, 0.064, 0.061,
  0.058,
  0.007, -0.004, 0.004, 0.009, -0.002, 0.006, 0.011, 0.001, 0.008, 0.004, 0.014, -0.001, 0.006, 0.010, 0.002, 0.015, 0.007, 0.000, 0.012, 0.005,
  0.013, 0.009, 0.019, 0.004, 0.011, 0.006, 0.013, 0.002, 0.010, 0.016, 0.007, 0.011, 0.003, 0.009, 0.013, 0.006, 0.015, 0.008, 0.002, 0.011, 0.005,
  -0.006, 0.004, -0.003, -0.010, 0.000, -0.006, 0.002, -0.008, 0.006, -0.004, 0.003, 0.008, 0.001, 0.010, 0.004, -0.001, 0.011, 0.005, 0.013, 0.002,
  0.007, 0.009, 0.001, 0.012, 0.003, -0.004, 0.006, -0.002, 0.003, -0.006, 0.002, -0.009, -0.003, 0.003, -0.006, 0.001, -0.002, 0.005, -0.004, 0.003,
  0.004, 0.009, -0.001, 0.006, 0.013, 0.002, 0.008, 0.012, 0.004, 0.010, 0.001, 0.007, 0.012, 0.004, 0.009, -0.001, 0.005, 0.011, 0.003, 0.006,
  -0.003, 0.004, -0.006, 0.002, 0.005, -0.002, -0.007, 0.003, -0.004, -0.011, -0.001, -0.007, -0.013, -0.004, -0.009, -0.014, -0.003, -0.011, -0.007, -0.015, -0.008,
  -0.010, -0.017, -0.004, -0.012, -0.018, -0.006, -0.011, -0.002, -0.014, -0.009, -0.013, -0.005, -0.016, -0.008, -0.011, -0.021, -0.005, -0.010, -0.016, -0.003,
  -0.008, -0.012, -0.005, -0.015, -0.009, -0.004, -0.011, -0.006, -0.014, -0.003, -0.009, -0.016, -0.002, -0.011, -0.020, -0.006, -0.013, -0.003, -0.011, -0.016, -0.006, -0.013
];

const seriesLabels = ['generated tip pos.', 'measured tip pos.', 'measured forces'];
const rowNames = ['x', 'y', 'z'];

// ---- style ----
const GREEN = '#5aa02f';
const RED = '#be2328';
const GRAY = '#7f7f7f';
const INK = '#262626';
const FONT = 'DejaVu Sans';

function pts(t, v) {
  return t.map((x, i) => ({ x: x, y: v[i] }));
}

function merged(tA, vA, tB, vB) {
  const all = pts(tA, vA).concat(pts(tB, vB));
  all.sort((a, b) => a.x - b.x);
  return all;
}

function tickText(v, dec) {
  if (Math.abs(v) < 1e-9) v = 0;
  return v.toFixed(dec).replace('-', '\u2212');
}

const frame = {
  id: 'frame',
  afterDraw(chart) {
    const { ctx, chartArea: { left, top, right, bottom } } = chart;
    ctx.save();
    ctx.strokeStyle = INK;
    ctx.lineWidth = 1.25;
    ctx.strokeRect(left, top, right - left, bottom - top);
    ctx.restore();
  }
};

const rowLabel = {
  id: 'rowLabel',
  afterDraw(chart, args, opts) {
    if (!opts.text) return;
    const { ctx, chartArea: { top, bottom } } = chart;
    ctx.save();
    ctx.font = '20px "' + FONT + '"';
    ctx.fillStyle = INK;
    ctx.textAlign = 'center';
    ctx.textBaseline = 'middle';
    ctx.fillText(opts.text, opts.x, (top + bottom) / 2);
    ctx.restore();
  }
};

const legendBox = {
  id: 'legendBox',
  afterDraw(chart, args, opts) {
    if (!opts.items) return;
    const { ctx, chartArea: { right, top } } = chart;
    const w = 231, h = 90;
    const x = right - w - 4, y = top + 3;
    ctx.save();
    ctx.beginPath();
    if (ctx.roundRect) ctx.roundRect(x, y, w, h, 4); else ctx.rect(x, y, w, h);
    ctx.fillStyle = 'rgba(255,255,255,0.8)';
    ctx.fill();
    ctx.strokeStyle = '#cccccc';
    ctx.lineWidth = 1;
    ctx.stroke();
    ctx.font = '18.5px "' + FONT + '"';
    ctx.textBaseline = 'middle';
    opts.items.forEach((it, i) => {
      const ly = y + 19 + i * 26.5;
      ctx.strokeStyle = it.color;
      ctx.lineWidth = 2;
      ctx.beginPath();
      ctx.moveTo(x + 6, ly);
      ctx.lineTo(x + 41, ly);
      ctx.stroke();
      ctx.fillStyle = INK;
      ctx.fillText(it.label, x + 54, ly);
    });
    ctx.restore();
  }
};

function axisGrid() {
  return { drawOnChartArea: false, drawTicks: true, tickLength: 6, color: INK, lineWidth: 1.25 };
}

function xAxis() {
  return {
    type: 'linear', min: -13.35, max: 280.35,
    ticks: { stepSize: 50, includeBounds: false, autoSkip: false, maxRotation: 0, padding: 3,
             color: INK, font: { family: FONT, size: 14 }, callback: v => String(v) },
    grid: axisGrid(),
    border: { display: false },
    title: { display: true, text: 'time [min]', color: INK, font: { family: FONT, size: 17 }, padding: 0 },
    afterFit(s) { s.height = 45; s.paddingLeft = 0; s.paddingRight = 0; }
  };
}

function yAxis(min, max, step, dec, label, width, titlePad) {
  return {
    type: 'linear', min: min, max: max,
    ticks: { stepSize: step, includeBounds: false, autoSkip: false, padding: 3,
             color: INK, font: { family: FONT, size: 14 }, callback: v => tickText(v, dec) },
    grid: axisGrid(),
    border: { display: false },
    title: { display: true, text: label, color: INK, font: { family: FONT, size: 17 }, padding: { top: titlePad, bottom: 0 } },
    afterFit(s) { s.width = width; s.paddingTop = 0; s.paddingBottom = 0; }
  };
}

function line(data, color, order, smooth, width) {
  return {
    data: data, borderColor: color, backgroundColor: color, borderWidth: width || 2,
    pointRadius: 0, fill: false, order: order,
    tension: smooth ? 0.4 : 0, cubicInterpolationMode: smooth ? 'monotone' : 'default'
  };
}

function posChart(id, time, gen, meas, yMin, yMax, row, smooth) {
  return new Chart(document.getElementById(id), {
    type: 'line',
    data: { datasets: [
      line(pts(time, gen), GREEN, 1, smooth),
      line(pts(time, meas), RED, 0, smooth)
    ] },
    options: {
      responsive: true, maintainAspectRatio: false, animation: false,
      layout: { padding: { left: 0, right: 53, top: 3, bottom: 0 } },
      scales: {
        x: xAxis(),
        y: yAxis(yMin, yMax, 0.02, 2, 'position [m] w.r.t. origin', 78, 2)
      },
      plugins: { legend: { display: false }, tooltip: { enabled: false },
                 rowLabel: { text: row, x: 875 } }
    },
    plugins: [frame, rowLabel]
  });
}

function forceChart(id, force, forceHalf, yMin, yMax, step, withLegend) {
  return new Chart(document.getElementById(id), {
    type: 'line',
    data: { datasets: [ line(merged(timeForce, force, timeForceHalf, forceHalf), GRAY, 0, false, 1.6) ] },
    options: {
      responsive: true, maintainAspectRatio: false, animation: false,
      layout: { padding: { left: 0, right: 1, top: 3, bottom: 0 } },
      scales: {
        x: xAxis(),
        y: yAxis(yMin, yMax, step, 2, 'force [N]', 81, 7)
      },
      plugins: { legend: { display: false }, tooltip: { enabled: false },
                 legendBox: withLegend ? { items: [
                   { label: seriesLabels[0], color: GREEN },
                   { label: seriesLabels[1], color: RED },
                   { label: seriesLabels[2], color: GRAY }
                 ] } : {} }
    },
    plugins: [frame, legendBox]
  });
}

posChart('posXChart', timePosXZ, genPosX, measPosX, -0.0297, 0.0956, rowNames[0], false);
posChart('posYChart', timePosY, genPosY, measPosY, -0.0833, 0.0899, rowNames[1], true);
posChart('posZChart', timePosXZ, genPosZ, measPosZ, 0.0388, 0.1312, rowNames[2], false);
forceChart('forceXChart', forceX, forceXHalf, -0.4176, -0.0766, 0.05, true);
forceChart('forceYChart', forceY, forceYHalf, -0.239, 0.0755, 0.05, false);
forceChart('forceZChart', forceZ, forceZHalf, -0.0230, 0.0776, 0.02, false);
</script>
</body>
</html>
